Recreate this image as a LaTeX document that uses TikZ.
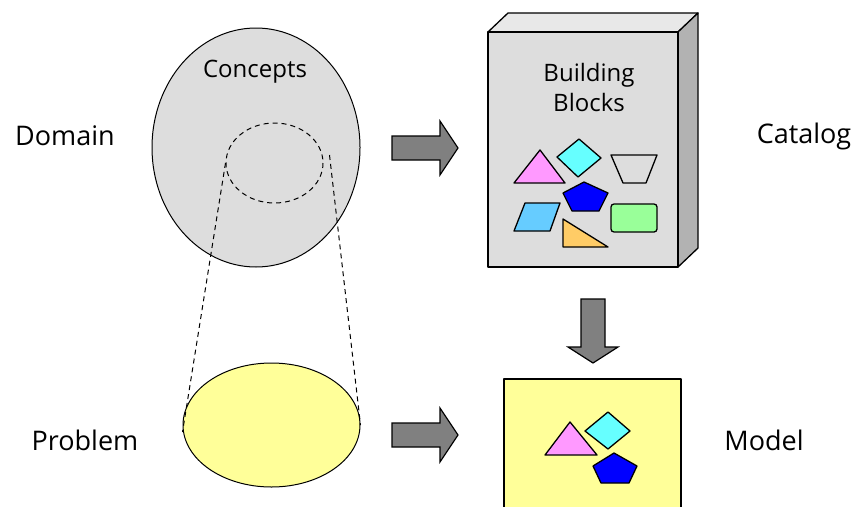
\documentclass[tikz,border=0pt]{standalone}
\usepackage{fontspec}
\setmainfont{Open Sans}
\usepackage{xcolor}
\usetikzlibrary{shapes.geometric, calc}

\definecolor{boxgray}{HTML}{DDDDDD}
\definecolor{topgray}{HTML}{E8E8E8}
\definecolor{sidegray}{HTML}{B2B2B2}
\definecolor{arrowgray}{HTML}{808080}
\definecolor{paleyellow}{HTML}{FFFF99}
\definecolor{pinkish}{HTML}{FF99FF}
\definecolor{cyanish}{HTML}{66FFFF}
\definecolor{skyblue}{HTML}{66CCFF}
\definecolor{greenish}{HTML}{99FF99}
\definecolor{orangish}{HTML}{FFCC66}

\begin{document}
\begin{tikzpicture}[
    x=1pt,
    y=-1pt,
    sidetext/.style={
        font=\fontsize{27}{32}\selectfont,
        inner sep=0
    },
    boxtext/.style={
        font=\fontsize{24}{30}\selectfont,
        align=center,
        inner sep=0
    },
    blob/.style={
        ellipse,
        draw=black,
        line width=1pt,
        inner sep=0
    },
    fatarrow/.style={
        draw=black,
        fill=arrowgray,
        line width=1.2pt
    },
    piece/.style={
        draw=black,
        line width=1.3pt,
        line join=round
    },
    linkline/.style={
        line width=1pt,
        dash pattern=on 5pt off 4pt
    }
]
\clip (0,0) rectangle (858,506);

% Domain side
\node[blob, fill=boxgray, minimum width=208pt, minimum height=239pt] (domain) at (256,147.5) {};
\node[boxtext] (concepts) at (255,72) {Concepts};
\node[blob, draw=none, minimum width=97pt, minimum height=80pt] (focus) at (274.5,163) {};
\draw[linkline] (focus) ellipse [x radius=48.5, y radius=40];
\node[sidetext] (domainlabel) at (65,136) {Domain};

% Problem side
\node[blob, fill=paleyellow, minimum width=177pt, minimum height=124pt] (problem) at (271.5,425) {};
\node[sidetext] (problemlabel) at (85,440) {Problem};
\draw[linkline] (focus.west) -- ([yshift=-7pt]problem.west);
\draw[linkline] ([xshift=6pt,yshift=8pt]focus.east) -- (problem.east);

% Catalog box
\draw[piece, fill=topgray] (488,32) -- (508,13) -- (698,13) -- (678,32) -- cycle;
\draw[piece, fill=sidegray] (678,32) -- (698,13) -- (698,248) -- (678,267) -- cycle;
\draw[piece, fill=boxgray] (488,32) rectangle (678,267);
\node[boxtext] (blocks) at (589,87) {Building\\Blocks};
\node[sidetext] (cataloglabel) at (804,136) {Catalog};

% building blocks
\draw[piece, fill=pinkish] (540,150) -- (565,183) -- (514,183) -- cycle;
\draw[piece, fill=cyanish] (579,139) -- (601,158) -- (578,177) -- (557,157) -- cycle;
\draw[piece] (611,155) -- (657,155) -- (646,183) -- (623,183) -- cycle;
\draw[piece, fill=blue] (584,182) -- (608,193) -- (599,211) -- (572,211) -- (563,193) -- cycle;
\draw[piece, fill=greenish, rounded corners=3pt] (611,204) rectangle (657,232);
\draw[piece, fill=skyblue] (525,203) -- (560,203) -- (550,231) -- (514,231) -- cycle;
\draw[piece, fill=orangish] (563,219) -- (608,247) -- (563,247) -- cycle;

% Model box
\draw[piece, fill=paleyellow] (504,379) rectangle (681,530);
\node[sidetext] (modellabel) at (764,440) {Model};
\draw[piece, fill=pinkish] (570,422) -- (597,455) -- (545,455) -- cycle;
\draw[piece, fill=cyanish] (608,412) -- (630,431) -- (608,449) -- (585,431) -- cycle;
\draw[piece, fill=blue] (614,453) -- (637,466) -- (629,483) -- (601,483) -- (593,466) -- cycle;

% Arrows
\draw[fatarrow, shift={(392,148)}] (0,-12) -- (48,-12) -- (48,-27) -- (66,0) -- (48,27) -- (48,12) -- (0,12) -- cycle;
\draw[fatarrow, shift={(392,435)}] (0,-12) -- (48,-12) -- (48,-27) -- (66,0) -- (48,27) -- (48,12) -- (0,12) -- cycle;
\draw[fatarrow, shift={(593,299)}] (-12,0) -- (12,0) -- (12,48) -- (25,48) -- (0,64) -- (-25,48) -- (-12,48) -- cycle;

\end{tikzpicture}
\end{document}
